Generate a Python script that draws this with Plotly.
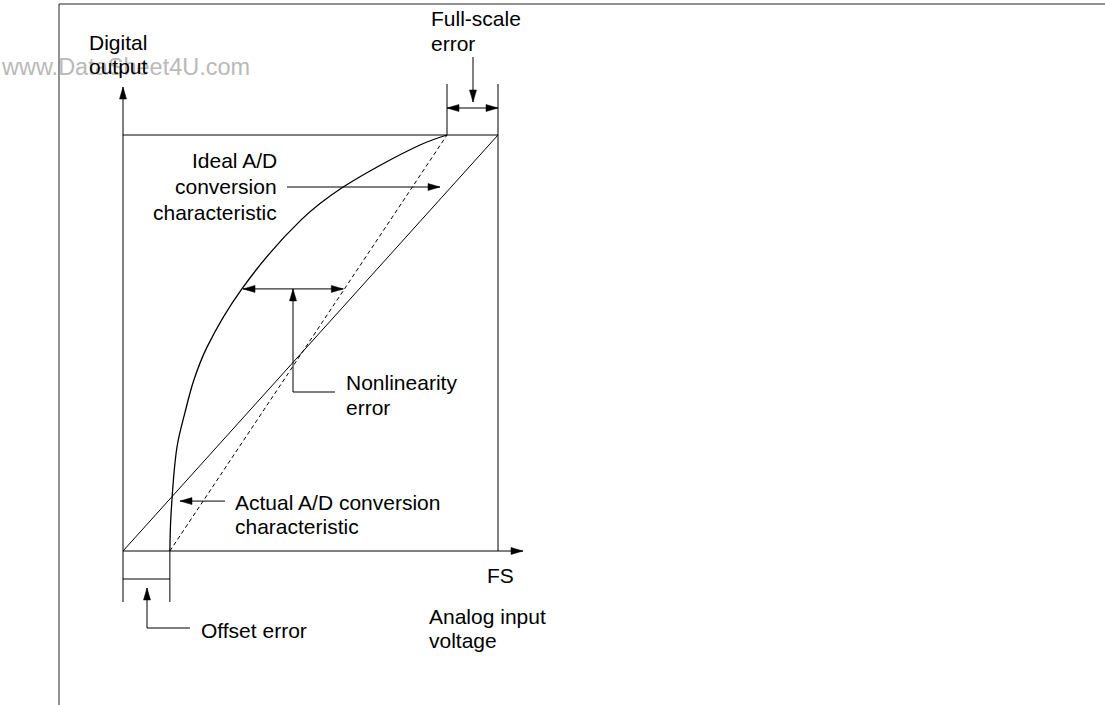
import plotly.graph_objects as go

# ---------------- data (diagram units: x = analog input, FS = 1; y = digital output, full scale = 1)
IDEAL_X = [0.0, 1.0]
IDEAL_Y = [0.0, 1.0]
OFFSET_ERROR = 0.125          # input where actual characteristic leaves zero
FULLSCALE_REACHED = 0.864     # input where actual characteristic reaches full scale
DASHED_X = [OFFSET_ERROR, FULLSCALE_REACHED]
DASHED_Y = [0.0, 1.0]
ACTUAL_X = [0.125, 0.128, 0.144, 0.165, 0.189, 0.224, 0.317, 0.475, 0.584, 0.792, 0.864]
ACTUAL_Y = [0.000, 0.087, 0.250, 0.332, 0.411, 0.490, 0.630, 0.796, 0.873, 0.976, 1.000]
NONLIN_LEVEL = 0.630          # output level where nonlinearity error is marked
NONLIN_LEFT = 0.317           # actual curve at that level
IDEAL_LABEL_LEVEL = 0.875
ACTUAL_LABEL_LEVEL = 0.120

# ---------------- geometry (pixel mapping of the diagram)
W, H = 1105, 705
OX, OY = 123, 551
SX, SY = 375, 416


def u(px):
    return (px - OX) / SX


def v(py):
    return (OY - py) / SY


def to_px(x, y):
    return OX + SX * x, OY - SY * y


FONT = dict(family="Liberation Sans, Arial, Helvetica, sans-serif", size=21, color="black")

fig = go.Figure()


def line(xs, ys, width=1.0, dash=None, color="black", shape="linear"):
    fig.add_trace(go.Scatter(x=xs, y=ys, mode="lines", hoverinfo="skip",
                             line=dict(color=color, width=width, dash=dash, shape=shape,
                                       smoothing=1.0 if shape == "spline" else None)))


def head(tip, tail, length=12, half=3.5):
    tx, ty = to_px(*tip)
    bx, by = to_px(*tail)
    dx, dy = tx - bx, ty - by
    n = (dx * dx + dy * dy) ** 0.5
    dx, dy = dx / n, dy / n
    cx, cy = tx - dx * length, ty - dy * length
    nx, ny = -dy, dx
    pts = [(tx, ty), (cx + nx * half, cy + ny * half), (cx - nx * half, cy - ny * half), (tx, ty)]
    fig.add_trace(go.Scatter(x=[u(p[0]) for p in pts], y=[v(p[1]) for p in pts],
                             mode="lines", fill="toself", fillcolor="black",
                             line=dict(color="black", width=0.5), hoverinfo="skip"))


def arrow(tail, tip, both=False):
    line([tail[0], tip[0]], [tail[1], tip[1]])
    head(tip, tail)
    if both:
        head(tail, tip)


def text(s, px, py, anchor="left", color="black", size=None):
    f = dict(FONT)
    f["color"] = color
    if size:
        f["size"] = size
    fig.add_annotation(x=u(px), y=v(py), text=s, showarrow=False, xanchor=anchor,
                       yanchor="middle", font=f, borderpad=0)


# ---------------- outer frame
line([u(59), u(59)], [v(4), v(712)], color="#222")
line([u(59), u(1110)], [v(4), v(4)], color="#222")

# ---------------- axes
arrow((0, 0), (0, v(87)))
arrow((0, 0), (u(523), 0))

# full-scale box
line([0, 1], [1, 1])
line([1, 1], [0, v(84)])
line([FULLSCALE_REACHED, FULLSCALE_REACHED], [1, v(84)])

# characteristics
line(IDEAL_X, IDEAL_Y)
line(DASHED_X, DASHED_Y, dash="4px,3px")
line(ACTUAL_X, ACTUAL_Y, width=1.3, shape="spline")

# full-scale error marker
arrow((FULLSCALE_REACHED, v(108)), (1, v(108)), both=True)
arrow((u(473), v(57)), (u(473), v(102)))

# ideal label arrow
arrow((u(287), IDEAL_LABEL_LEVEL), (u(440), IDEAL_LABEL_LEVEL))

# nonlinearity error
dash_at = OFFSET_ERROR + (FULLSCALE_REACHED - OFFSET_ERROR) * NONLIN_LEVEL
arrow((NONLIN_LEFT + 0.003, NONLIN_LEVEL), (dash_at - 0.003, NONLIN_LEVEL), both=True)
arrow((u(293), v(392)), (u(293), NONLIN_LEVEL))
line([u(293), u(335)], [v(392), v(392)])

# actual label arrow
arrow((u(225), ACTUAL_LABEL_LEVEL), (u(180), ACTUAL_LABEL_LEVEL))

# offset error marker
line([0, 0], [0, v(602)])
line([OFFSET_ERROR, OFFSET_ERROR], [0, v(602)])
line([0, OFFSET_ERROR], [v(579), v(579)])
arrow((u(147), v(628)), (u(147), v(588)))
line([u(147), u(190)], [v(628), v(628)])

# ---------------- texts
text("www.DataSheet4U.com", 0, 67, color="#b9b9b9", size=23.5)
text("Digital", 88, 42)
text("output", 88, 66)
text("Full-scale", 430, 18)
text("error", 430, 43)
text("Ideal A/D", 278, 160, anchor="right")
text("conversion", 278, 186, anchor="right")
text("characteristic", 278, 212, anchor="right")
text("Nonlinearity", 345, 382)
text("error", 345, 407)
text("Actual A/D conversion", 234, 502)
text("characteristic", 234, 526)
text("FS", 486, 575)
text("Analog input", 428, 616)
text("voltage", 428, 640)
text("Offset error", 200, 630)

fig.update_layout(
    width=W, height=H, autosize=False,
    margin=dict(l=0, r=0, t=0, b=0),
    paper_bgcolor="white", plot_bgcolor="white",
    showlegend=False,
    xaxis=dict(range=[u(0), u(W)], visible=False, fixedrange=True),
    yaxis=dict(range=[v(H), v(0)], visible=False, fixedrange=True),
)

fig.write_html("out.html", config={"displayModeBar": False, "staticPlot": True},
               post_script="document.body.style.margin='0';document.body.style.overflow='hidden';")
